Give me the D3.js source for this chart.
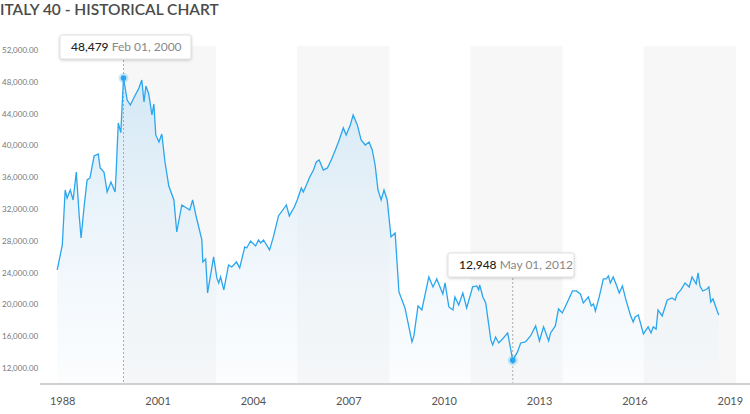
<!DOCTYPE html>
<html><head><meta charset="utf-8">
<script src="https://cdn.jsdelivr.net/npm/d3@7"></script>
<style>body{margin:0;background:#fff;font-family:"Open Sans",sans-serif}</style>
</head><body><svg id="c" width="750" height="414"></svg>
<script>
const years=[1998.00,1998.16,1998.25,1998.31,1998.41,1998.50,1998.60,1998.69,1998.75,1998.85,1998.94,1999.03,1999.16,1999.29,1999.35,1999.47,1999.57,1999.69,1999.82,1999.85,1999.92,2000.0,2000.085,2000.2,2000.3,2000.44,2000.57,2000.66,2000.73,2000.79,2000.88,2000.98,2001.04,2001.10,2001.20,2001.29,2001.39,2001.51,2001.67,2001.76,2001.92,2002.17,2002.26,2002.36,2002.55,2002.58,2002.67,2002.73,2002.92,2003.02,2003.08,2003.14,2003.24,2003.39,2003.49,2003.64,2003.74,2003.90,2003.96,2004.08,2004.24,2004.33,2004.40,2004.49,2004.68,2004.80,2004.96,2005.21,2005.30,2005.46,2005.55,2005.68,2005.74,2005.84,2005.93,2006.06,2006.15,2006.24,2006.37,2006.50,2006.62,2006.75,2006.87,2007.00,2007.09,2007.22,2007.31,2007.44,2007.56,2007.69,2007.81,2007.91,2008.00,2008.09,2008.19,2008.28,2008.38,2008.50,2008.63,2008.75,2008.94,2009.16,2009.22,2009.35,2009.47,2009.69,2009.82,2009.94,2010.13,2010.20,2010.32,2010.45,2010.51,2010.63,2010.76,2010.88,2011.07,2011.20,2011.26,2011.29,2011.39,2011.48,2011.64,2011.70,2011.79,2011.89,2012.01,2012.17,2012.33,2012.48,2012.58,2012.73,2012.89,2013.05,2013.17,2013.30,2013.46,2013.52,2013.67,2013.77,2013.89,2014.05,2014.21,2014.33,2014.46,2014.55,2014.71,2014.80,2014.87,2014.93,2015.05,2015.18,2015.27,2015.34,2015.40,2015.49,2015.59,2015.68,2015.78,2015.90,2016.03,2016.12,2016.18,2016.28,2016.44,2016.59,2016.68,2016.75,2016.84,2016.90,2017.03,2017.19,2017.34,2017.44,2017.50,2017.62,2017.75,2017.88,2017.97,2018.10,2018.16,2018.22,2018.31,2018.44,2018.50,2018.56,2018.63,2018.75,2018.81];
const values=[24320,27470,34390,33380,34390,33130,36650,31240,28350,32500,35650,35900,38660,38920,37160,36650,34140,35390,34140,36280,42820,41600,48479,45710,45080,46210,47220,48230,45460,47470,46460,43820,45210,41310,40430,41430,37910,34890,33130,29100,32500,31870,33130,31240,28100,25330,25710,21430,25960,23320,22690,23440,21810,24950,24700,25330,24580,27220,27090,27970,27340,28100,27720,28100,26840,28480,31120,32500,31120,32250,33130,34640,34140,35020,35900,36900,37910,38160,36900,37160,38160,39420,40680,42190,41310,42570,43820,42570,40680,40050,40430,39420,37530,34390,33130,34390,33130,28480,28980,21560,19540,15270,16020,19800,19290,23440,22190,23190,21300,22690,19670,19290,20930,19920,21430,19540,22190,22310,21810,22440,20930,20170,15520,14890,15890,15140,15640,16400,12948,14010,15140,15270,16020,17280,15390,17160,15390,16400,17280,19420,18920,20300,21680,21680,21300,20170,20930,19800,20050,19170,20930,23190,23190,23570,22690,23440,22440,21430,22310,20430,18660,17780,18410,18660,16270,17160,16400,17160,16900,19290,18540,20550,20800,20550,21300,21810,22690,22190,23440,22560,23950,22310,21680,21930,22190,20300,20680,19290,18660];
const yTicks=[12000,16000,20000,24000,28000,32000,36000,40000,44000,48000,52000];
const xTickYears=[1998,2001,2004,2007,2010,2013,2016,2019];
const xTickLabels=["1988","2001","2004","2007","2010","2013","2016","2019"];
const bands=[[2000.085,2003.0],[2005.55,2008.45],[2011.0,2013.9],[2016.45,2019.35]];
const tips=[{year:2000.085,value:48479,label:"48,479",date:"Feb 01, 2000"},{year:2012.33,value:12948,label:"12,948",date:"May 01, 2012"}];

const svg=d3.select("#c");
const x=d3.scaleLinear().domain([1997.93,2018.85]).range([55,720]);
const y=d3.scaleLinear().domain([10100,52000]).range([383,50]);
const data=years.map((d,i)=>({x:d,v:values[i]}));

svg.append("text").attr("x",0).attr("y",15).text("ITALY 40 - HISTORICAL CHART")
 .attr("font-size",15.5).attr("font-weight",600).attr("fill","#4a4a4a").attr("font-family","Lato, 'Open Sans', sans-serif");

svg.selectAll("rect.band").data(bands).enter().append("rect")
 .attr("x",d=>x(d[0])).attr("width",d=>x(d[1])-x(d[0])).attr("y",46).attr("height",383-46).attr("fill","#f7f7f7");

const defs=svg.append("defs");
const g=defs.append("linearGradient").attr("id","ag").attr("gradientUnits","userSpaceOnUse").attr("x1",0).attr("x2",0).attr("y1",y(48000)).attr("y2",383);
g.append("stop").attr("offset","0").attr("stop-color","#d3e8f6").attr("stop-opacity",0.95);
g.append("stop").attr("offset","1").attr("stop-color","#eef5fb").attr("stop-opacity",0.25);

svg.append("path").datum(data).attr("fill","url(#ag)")
 .attr("d",d3.area().x(d=>x(d.x)).y0(383).y1(d=>y(d.v)));
svg.append("path").datum(data).attr("fill","none").attr("stroke","#2aa6ee").attr("stroke-width",1.3)
 .attr("d",d3.line().x(d=>x(d.x)).y(d=>y(d.v)));

const ya=svg.append("g").attr("transform","translate(2,0)")
 .call(d3.axisRight(y).tickValues(yTicks).tickSize(0).tickFormat(d3.format(",.2f")));
ya.select(".domain").remove();
ya.selectAll("text").attr("x",0).attr("dy","0.32em").attr("font-size",8).attr("fill","#777").attr("font-family","Lato, sans-serif");

svg.append("line").attr("x1",40).attr("x2",750).attr("y1",384).attr("y2",384).attr("stroke","#cfcfcf").attr("stroke-width",2);
const xa=svg.append("g").attr("transform","translate(0,384)")
 .call(d3.axisBottom(x).tickValues(xTickYears).tickSize(0).tickFormat((d,i)=>xTickLabels[i]));
xa.select(".domain").remove();
xa.selectAll("text").attr("dx",5).attr("y",13).attr("font-size",11).attr("fill","#555").attr("font-family","Lato, sans-serif");

tips.forEach((t,i)=>{
 const px=x(t.year), py=y(t.value);
 const bx=i==0?60:448, by=i==0?35:253;
 svg.append("line").attr("x1",px).attr("x2",px).attr("y1",by+25).attr("y2",383).attr("stroke","#999").attr("stroke-dasharray","2,2").attr("stroke-width",0.8);
 svg.append("circle").attr("cx",px).attr("cy",py).attr("r",5).attr("fill","#2aa6ee").attr("opacity",0.25);
 svg.append("circle").attr("cx",px).attr("cy",py).attr("r",2.8).attr("fill","#2aa6ee");
 svg.append("rect").attr("x",bx).attr("y",by).attr("width",i==0?131:126).attr("height",24).attr("rx",2)
  .attr("fill","#fff").attr("stroke","#e2e2e2").style("filter","drop-shadow(0 1px 1.5px rgba(0,0,0,0.18))");
 const tx=svg.append("text").attr("x",bx+11).attr("y",by+16).attr("font-size",12).attr("font-family","Lato, sans-serif");
 tx.append("tspan").text(t.label).attr("fill","#222").attr("font-weight",500);
 tx.append("tspan").text(" "+t.date).attr("fill","#888");
});
</script></body></html>
